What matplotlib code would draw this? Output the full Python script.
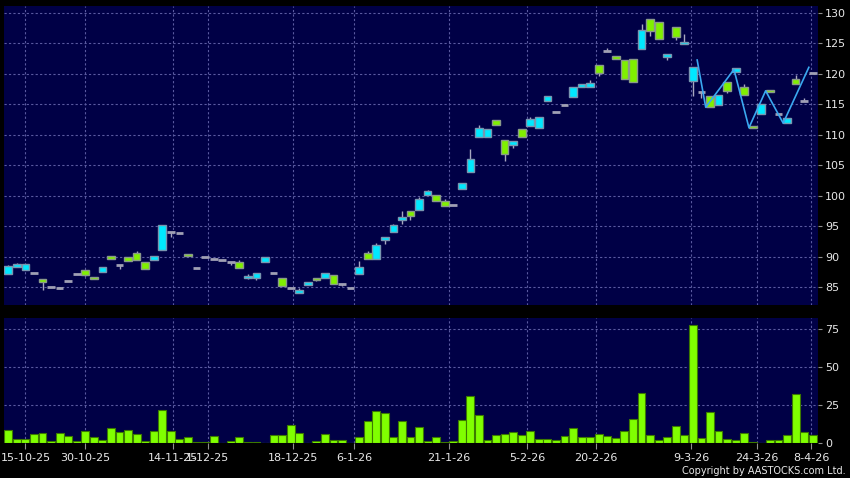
import numpy as np
import matplotlib
matplotlib.use("Agg")
import matplotlib.pyplot as plt

# daily OHLC (bar index 0 = first trading day shown)
opens = [87.2, 88.4, 87.9, 87.3, 86.3, 85.1, 84.9, 86.1, 87.2, 87.8,
         86.7, 87.45, 90.05, 88.65, 89.9, 90.55, 89.1, 89.5, 91.05, 94.1,
         93.9, 90.4, 88.1, 89.9, 89.65, 89.55, 89.1, 89.1, 86.45, 86.55,
         89.1, 87.4, 86.45, 84.9, 84.1, 85.4, 86.6, 86.6, 86.95, 85.5,
         84.9, 87.2, 90.7, 89.65, 92.7, 94.1, 96.05, 97.45, 97.7, 100.05,
         100.2, 99.1, 98.45, 101.05, 103.85, 109.65, 109.65, 112.35, 109.1, 108.35,
         110.9, 111.5, 111.05, 115.5, 113.75, 114.9, 116.15, 117.8, 117.8, 121.4,
         123.75, 122.85, 122.25, 122.35, 124.1, 128.9, 128.45, 122.7, 127.6, 124.8,
         118.85, 116.95, 116.4, 114.8, 118.6, 120.35, 117.75, 111.4, 113.35, 117.3,
         113.45, 111.85, 119.2, 115.55, 120.15]
highs = [88.7, 89.0, 88.8, 87.3, 86.3, 85.1, 85.1, 86.1, 87.2, 87.8,
         86.7, 88.25, 90.05, 88.65, 89.9, 90.9, 89.1, 90.05, 95.15, 94.1,
         93.9, 90.4, 88.1, 89.9, 89.65, 89.55, 89.1, 89.45, 87.15, 87.35,
         89.95, 87.4, 86.45, 84.9, 84.85, 85.85, 86.6, 87.3, 86.95, 85.5,
         84.9, 89.3, 90.9, 92.25, 93.25, 95.35, 97.5, 97.45, 99.75, 100.95,
         100.2, 99.45, 98.45, 102.05, 107.65, 111.6, 110.9, 112.35, 109.1, 108.9,
         110.9, 112.9, 112.9, 116.3, 113.75, 114.9, 117.75, 118.25, 118.95, 121.4,
         124.15, 122.85, 122.25, 122.35, 128.15, 128.9, 128.45, 123.25, 127.6, 126.5,
         121.05, 116.95, 116.4, 116.45, 118.6, 121.0, 118.3, 111.4, 115.0, 117.3,
         113.45, 112.7, 119.75, 115.95, 120.15]
lows = [87.2, 88.4, 87.9, 87.3, 84.6, 85.1, 84.7, 86.1, 87.2, 86.8,
        86.3, 87.45, 89.7, 88.0, 89.25, 89.5, 87.95, 89.5, 91.05, 93.2,
        93.9, 90.05, 88.1, 89.9, 89.65, 89.55, 88.7, 88.2, 86.35, 86.2,
        89.1, 87.4, 85.25, 84.9, 84.1, 85.4, 86.05, 86.6, 85.6, 85.2,
        84.9, 87.2, 89.65, 89.65, 92.1, 94.1, 95.4, 96.05, 97.7, 100.05,
        99.1, 98.25, 98.45, 101.05, 103.85, 109.65, 109.65, 111.65, 105.75, 107.85,
        109.55, 111.5, 111.05, 115.5, 113.75, 114.9, 116.15, 117.8, 117.8, 119.65,
        123.75, 122.45, 119.2, 118.7, 124.1, 126.25, 125.75, 122.3, 125.5, 124.8,
        116.3, 116.1, 114.6, 114.8, 116.9, 120.35, 116.55, 111.05, 113.35, 116.95,
        113.45, 111.85, 118.25, 115.55, 120.15]
closes = [88.5, 88.75, 88.75, 87.3, 85.9, 85.1, 84.9, 86.1, 87.2, 87.05,
          86.3, 88.25, 89.7, 88.65, 89.25, 89.5, 87.95, 90.05, 95.15, 94.1,
          93.9, 90.05, 88.1, 89.9, 89.65, 89.55, 89.1, 88.2, 86.85, 87.35,
          89.95, 87.4, 85.25, 84.9, 84.55, 85.85, 86.25, 87.3, 85.6, 85.5,
          84.9, 88.25, 89.65, 91.9, 93.25, 95.15, 96.6, 96.7, 99.45, 100.75,
          99.1, 98.25, 98.45, 102.05, 105.95, 111.05, 110.9, 111.65, 106.9, 108.9,
          109.55, 112.55, 112.9, 116.3, 113.75, 114.9, 117.75, 118.25, 118.5, 120.05,
          123.75, 122.45, 119.2, 118.7, 127.1, 126.95, 125.75, 123.25, 125.95, 125.15,
          121.05, 116.95, 114.6, 116.45, 117.15, 121.0, 116.55, 111.05, 115.0, 116.95,
          113.45, 112.7, 118.25, 115.55, 120.15]
volumes = [8.75, 2.8, 2.8, 5.9, 6.8, 1.75, 6.8, 5.0, 1.3, 7.9,
           4.4, 2.4, 9.8, 7.4, 8.5, 6.3, 1.3, 7.9, 21.9, 7.9,
           2.8, 4.4, 0.7, 0.7, 4.8, 0.2, 1.75, 4.4, 0.7, 0.7,
           0.4, 5.2, 5.2, 11.8, 6.8, 0.2, 1.75, 5.9, 2.0, 2.0,
           0.4, 3.9, 14.9, 21.2, 20.1, 4.2, 14.4, 3.9, 10.7, 1.75,
           3.9, 0.7, 1.75, 15.3, 30.8, 18.8, 2.2, 5.25, 5.9, 7.2,
           5.7, 8.3, 2.8, 2.8, 2.2, 4.8, 10.3, 4.2, 3.9, 6.1,
           4.8, 3.5, 8.3, 16.0, 33.2, 5.7, 2.0, 3.9, 11.4, 5.7,
           77.4, 3.3, 20.3, 8.3, 2.6, 2.2, 6.6, 1.1, 0.4, 2.2,
           2.2, 5.25, 32.4, 7.7, 5.25]

# zigzag overlay (bar index, price)
zz_x = [80.5, 81.5, 84.8, 86.55, 88.5, 90.55, 93.55]
zz_y = [122.25, 114.5, 120.7, 111.15, 117.2, 111.9, 121.05]

date_labels = ["15-10-25", "30-10-25", "14-11-25", "1-12-25", "18-12-25", "6-1-26",
               "21-1-26", "5-2-26", "20-2-26", "9-3-26", "24-3-26", "8-4-26"]
date_pos = [2, 9, 19.2, 23.3, 33.3, 40.4, 51.5, 60.6, 68.7, 79.8, 87.5, 93.8]

o = np.array(opens); h = np.array(highs); l = np.array(lows); c = np.array(closes)
idx = np.arange(len(o))
up = c > o
dn = c < o
flat = c == o

bg = '#000046'
gridc = '#5a5aa0'
txt = '#e8e8e8'

fig = plt.figure(figsize=(8.5, 4.78), dpi=100, facecolor='black')
ax1 = fig.add_axes([4/850, 1-305/478, 814/850, 299/478], facecolor=bg)
ax2 = fig.add_axes([4/850, 1-443.3/478, 814/850, 125.3/478], facecolor=bg, sharex=ax1)

# price panel
ax1.vlines(idx, l, h, color='#a8a8c0', lw=1, zorder=2)
ax1.bar(idx[up], (c-o)[up], bottom=o[up], width=0.9, color='#00e8ff',
        edgecolor='#7896b0', lw=1, zorder=3)
ax1.bar(idx[dn], (o-c)[dn], bottom=c[dn], width=0.9, color='#80f000',
        edgecolor='#8a9a8a', lw=1, zorder=3)
ax1.hlines(c[flat], idx[flat]-0.45, idx[flat]+0.45, color='#a0a0b4', lw=2, zorder=3)
ax1.plot(zz_x, zz_y, color='#3aa8f0', lw=1.2, zorder=4)

ax1.set_ylim(82.1, 131.1)
ax1.set_yticks(range(85, 131, 5))
ax1.yaxis.tick_right()

# volume panel
ax2.bar(idx, volumes, width=0.92, color='#80ff00', edgecolor='#3c7a00', lw=0.8, zorder=3)
ax2.set_ylim(0, 82.2)
ax2.set_yticks([0, 25, 50, 75])
ax2.yaxis.tick_right()

ax2.set_xlim(-0.5, 94.62)
ax2.set_xticks(date_pos)
ax2.set_xticklabels(date_labels)

for ax in (ax1, ax2):
    for s in ax.spines.values():
        s.set_visible(False)
    ax.grid(True, color=gridc, ls=(0, (2, 2)), lw=0.8, zorder=0)
    ax.set_axisbelow(True)
    ax.tick_params(axis='y', colors=txt, labelsize=8, length=3, pad=2,
                   color='#909090')
ax1.tick_params(axis='x', length=0, labelbottom=False)
ax2.tick_params(axis='x', colors=txt, labelsize=8, length=4, pad=3,
                color='#909090')

fig.text(846/850, 1-471/478, 'Copyright by AASTOCKS.com Ltd.', ha='right',
         va='center', color=txt, fontsize=7)

fig.savefig('out.png', dpi=100, facecolor='black')
